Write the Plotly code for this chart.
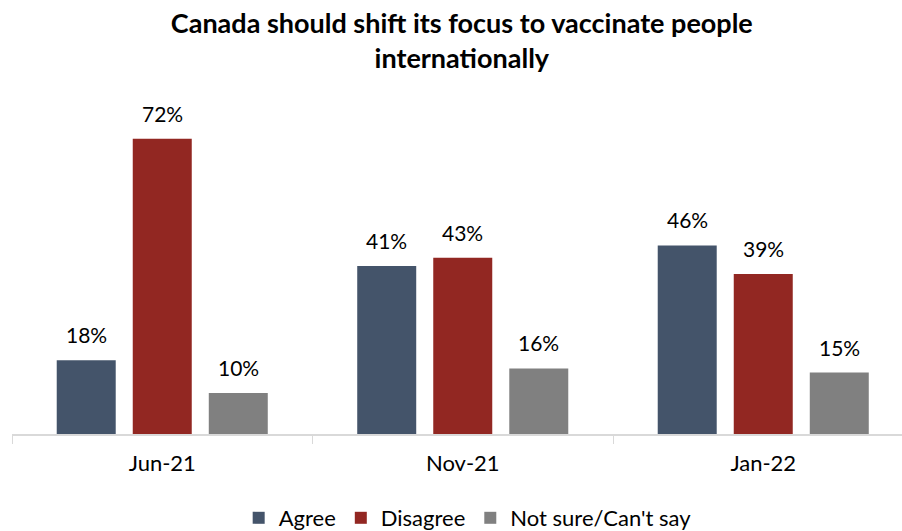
import plotly.graph_objects as go

categories = ["Jun-21", "Nov-21", "Jan-22"]
agree = [18, 41, 46]
disagree = [72, 43, 39]
not_sure = [10, 16, 15]
series_names = ["Agree", "Disagree", "Not sure/Can't say"]
colors = ["#44546A", "#922722", "#808080"]

FONT = "Lato"
SLOT_PX = 76  # pixel spacing between bars in a group

fig = go.Figure()
for name, vals, col in zip(series_names, [agree, disagree, not_sure], colors):
    fig.add_trace(go.Bar(
        x=categories, y=vals, name=name,
        marker=dict(color=col, line=dict(width=0)),
    ))

for k, vals in enumerate([agree, disagree, not_sure]):
    for cat, v in zip(categories, vals):
        fig.add_annotation(
            x=cat, y=v, xref="x", yref="y", text=f"{v}%",
            showarrow=False, yanchor="bottom", xanchor="center",
            xshift=(k - 1) * SLOT_PX, yshift=11,
            font=dict(size=21, family=FONT, color="#000000"),
        )

fig.update_layout(
    width=902, height=531,
    margin=dict(l=12, r=0, t=90, b=97),
    paper_bgcolor="white", plot_bgcolor="white",
    barmode="group", bargap=0.241, bargroupgap=0.224,
    font=dict(family=FONT, color="#000000"),
    title=dict(
        text="<b>Canada should shift its focus to vaccinate people<br>internationally</b>",
        x=0.512, xanchor="center", xref="container",
        y=1 - 33 / 531, yanchor="top", yref="container",
        font=dict(size=27, family=FONT, color="#000000"),
    ),
    legend=dict(
        orientation="h", x=0.512, xanchor="center",
        yref="container", y=1 - 518 / 531, yanchor="middle",
        font=dict(size=22, family=FONT), itemwidth=30,
        traceorder="normal",
    ),
    xaxis=dict(
        range=[-0.5, -0.5 + 890 / 300.5],
        showline=True, linecolor="#D9D9D9", linewidth=1.5,
        ticks="outside", tickson="boundaries", ticklen=8, tickcolor="#D9D9D9",
        tickfont=dict(size=22, family=FONT), ticklabelstandoff=9,
        showgrid=False,
    ),
    yaxis=dict(range=[0, 344 / 4.1], visible=False, showgrid=False),
)

fig.write_html("out.html")
